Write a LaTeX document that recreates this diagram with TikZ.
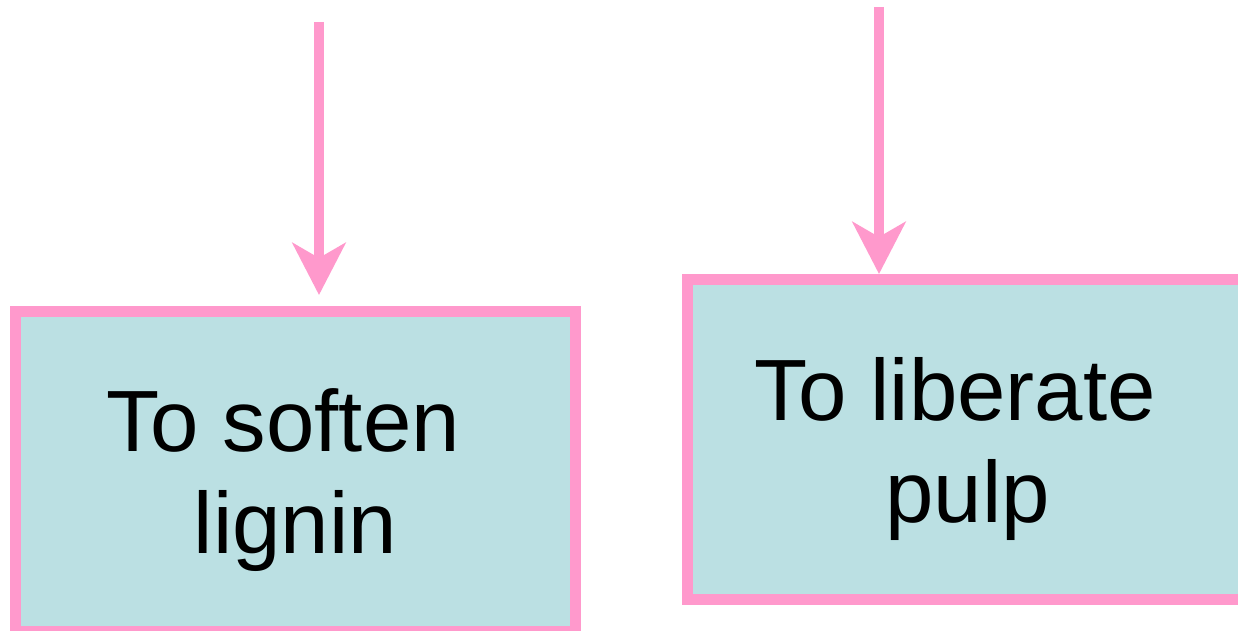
\documentclass[tikz,border=0pt]{standalone}
\usepackage{fontspec}
\setmainfont{Liberation Sans}
\usepackage{xcolor}
\usetikzlibrary{arrows.meta,positioning}
\definecolor{linkpink}{RGB}{255,153,204}
\definecolor{boxblue}{RGB}{187,224,227}

\begin{document}
\begin{tikzpicture}[x=1pt, y=-1pt,
    aim/.style={draw=linkpink, fill=boxblue, line width=11pt, minimum width=560pt, minimum height=320pt, align=center, inner sep=0pt, text depth=0pt, font=\fontsize{87}{102}\selectfont},
    feed/.style={draw=linkpink, line width=10pt, -{Stealth[length=52pt, width=53pt, inset=15pt]}}]
    \useasboundingbox (0,0) rectangle (1238,631);
    \node[aim] (soften) at (295.5,471.5) {To soften\hspace*{0.28em}\\lignin};
    \node[aim] (liberate) at (967.5,439.5) {To liberate\hspace*{0.28em}\\pulp};
    \coordinate (softentop) at (319,22);
    \coordinate (liberatetop) at (879,7);
    \draw[feed, shorten >=11pt] (softentop) -- (softentop |- soften.north);
    \draw[feed] (liberatetop) -- (liberatetop |- liberate.north);
\end{tikzpicture}
\end{document}
